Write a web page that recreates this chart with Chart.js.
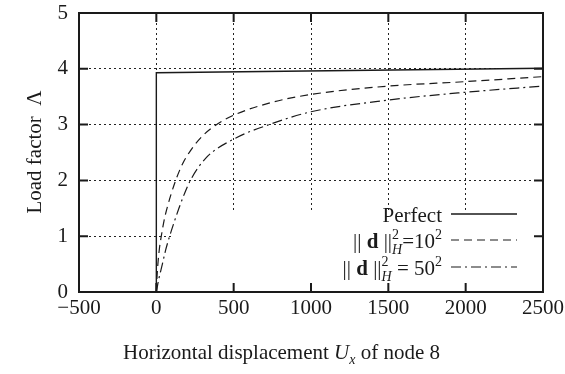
<!DOCTYPE html>
<html>
<head>
<meta charset="UTF-8" />
<title>load factor</title>
<script src="https://cdn.jsdelivr.net/npm/chart.js@4.4.1/dist/chart.umd.min.js"></script>
<style>
  html, body { margin: 0; padding: 0; background: #fff; }
  #wrap { width: 565px; height: 374px; }
</style>
</head>
<body>
<div id="wrap"><canvas id="chart"></canvas></div>
<script>
// data
const xTicks = [-500, 0, 500, 1000, 1500, 2000, 2500];
const yTicks = [0, 1, 2, 3, 4, 5];

const perfectX = [0, 0, 2500];
const perfectY = [0, 3.93, 4.01];

const d10X = [0, 4, 10, 20, 32, 50, 69, 95, 125, 170, 220, 300, 400, 500, 750, 1000, 1500, 2000, 2500];
const d10Y = [0, 0.25, 0.5, 0.78, 1.0, 1.28, 1.5, 1.75, 2.0, 2.3, 2.53, 2.8, 3.02, 3.17, 3.4, 3.54, 3.69, 3.77, 3.86];

const d50X = [0, 15, 39, 60, 86, 115, 146, 180, 220, 320, 500, 750, 1000, 1500, 2000, 2500];
const d50Y = [0, 0.22, 0.5, 0.75, 1.0, 1.25, 1.5, 1.75, 2.0, 2.4, 2.74, 3.02, 3.23, 3.44, 3.58, 3.69];

const legendLabels = ['Perfect', '10', '50'];
const xTitle = ['Horizontal displacement ', 'U', 'x', ' of node 8'];
const yTitle = 'Load factor  \u039B';

const toPts = (xs, ys) => xs.map((x, i) => ({ x: x, y: ys[i] }));

const SERIF = '"Liberation Serif", "DejaVu Serif", serif';
const INK = '#1a1a1a';
const dashes = [[], [8, 5], [10, 4, 2, 4]];

// draw a row of text pieces, right aligned at xr
function richRow(ctx, parts, xr, y) {
  let w = 0;
  parts.forEach(p => {
    ctx.font = p.font;
    p.w = ctx.measureText(p.t).width;
    if (p.sub) { ctx.font = p.subFont; p.w = Math.max(p.w, ctx.measureText(p.sub).width); }
    w += p.w;
  });
  let x = xr - w;
  ctx.textBaseline = 'alphabetic';
  ctx.textAlign = 'left';
  parts.forEach(p => {
    ctx.font = p.font;
    ctx.fillText(p.t, x, y + (p.dy || 0));
    if (p.sub) { ctx.font = p.subFont; ctx.fillText(p.sub, x, y + 6); }
    x += p.w;
  });
  return w;
}

const framePlugin = {
  id: 'frame',
  beforeDatasetsDraw(chart) {
    // key box hides the grid behind it
    const { ctx, scales: { x, y } } = chart;
    ctx.save();
    ctx.fillStyle = '#fff';
    const l = x.getPixelForValue(105), t = y.getPixelForValue(1.43);
    ctx.fillRect(l, t, x.right - l - 1, y.bottom - t - 1);
    ctx.restore();
  },
  afterDraw(chart) {
    const { ctx, chartArea: a, scales: { x, y } } = chart;
    ctx.save();
    ctx.strokeStyle = INK;
    ctx.lineWidth = 2;
    ctx.strokeRect(a.left, a.top, a.right - a.left, a.bottom - a.top);
    ctx.beginPath();
    xTicks.forEach(v => {
      const px = x.getPixelForValue(v);
      ctx.moveTo(px, a.bottom); ctx.lineTo(px, a.bottom - 9);
      ctx.moveTo(px, a.top); ctx.lineTo(px, a.top + 9);
    });
    yTicks.forEach(v => {
      const py = y.getPixelForValue(v);
      ctx.moveTo(a.left, py); ctx.lineTo(a.left + 9, py);
      ctx.moveTo(a.right, py); ctx.lineTo(a.right - 9, py);
    });
    ctx.stroke();

    // legend
    ctx.fillStyle = INK;
    const reg = '21px ' + SERIF, bold = 'bold 21px ' + SERIF, small = '14px ' + SERIF;
    const supSub = { t: '2', font: small, dy: -9, sub: 'H', subFont: 'italic 14px ' + SERIF };
    const rows = [
      [{ t: legendLabels[0], font: reg }],
      [{ t: '|| ', font: reg }, { t: 'd', font: bold }, { t: ' ||', font: reg }, Object.assign({}, supSub),
       { t: '=' + legendLabels[1], font: reg }, { t: '2', font: small, dy: -9 }],
      [{ t: '|| ', font: reg }, { t: 'd', font: bold }, { t: ' ||', font: reg }, Object.assign({}, supSub),
       { t: ' = ' + legendLabels[2], font: reg }, { t: '2', font: small, dy: -9 }]
    ];
    const rowY = [214, 240, 267];
    rows.forEach((r, i) => {
      richRow(ctx, r, 442, rowY[i] + 8);
      ctx.beginPath();
      ctx.lineWidth = i === 0 ? 1.4 : 1.2;
      ctx.setLineDash(dashes[i]);
      ctx.moveTo(451, rowY[i]); ctx.lineTo(517, rowY[i]);
      ctx.stroke();
      ctx.setLineDash([]);
    });

    // x title with italic U and subscript x
    const parts = [
      { t: xTitle[0], font: '21px ' + SERIF },
      { t: xTitle[1], font: 'italic 21px ' + SERIF },
      { t: xTitle[2], font: 'italic 14px ' + SERIF, dy: 5 },
      { t: xTitle[3], font: '21px ' + SERIF }
    ];
    let xx = 123;
    parts.forEach(p => {
      ctx.font = p.font;
      ctx.fillText(p.t, xx, 359 + (p.dy || 0));
      xx += ctx.measureText(p.t).width;
    });

    // y title
    ctx.translate(41, 152);
    ctx.rotate(-Math.PI / 2);
    ctx.font = '21px ' + SERIF;
    ctx.textAlign = 'center';
    ctx.fillText(yTitle, 0, 0);
    ctx.restore();
  }
};

const lineDs = (xs, ys, dash, w) => ({
  data: toPts(xs, ys),
  showLine: true,
  borderColor: INK,
  borderWidth: w,
  borderDash: dash,
  pointRadius: 0,
  cubicInterpolationMode: 'monotone',
  fill: false
});

const data = {
  datasets: [
    Object.assign(lineDs(perfectX, perfectY, dashes[0], 1.4), { cubicInterpolationMode: 'default', tension: 0 }),
    lineDs(d10X, d10Y, dashes[1], 1.2),
    lineDs(d50X, d50Y, dashes[2], 1.2)
  ]
};

const gridColor = (edge) => (c) => (c.tick && edge.includes(c.tick.value)) ? 'rgba(0,0,0,0)' : '#222';

const config = {
  type: 'scatter',
  data: data,
  options: {
    responsive: true,
    maintainAspectRatio: false,
    animation: false,
    layout: { padding: { left: 0, top: 13, right: 22, bottom: 0 } },
    plugins: { legend: { display: false }, tooltip: { enabled: false } },
    scales: {
      x: {
        type: 'linear', min: -500, max: 2500,
        afterBuildTicks: s => { s.ticks = xTicks.map(v => ({ value: v })); },
        afterFit: s => { s.height = 82; s.paddingLeft = 0; s.paddingRight = 0; },
        grid: { color: gridColor([-500, 2500]), lineWidth: 1, drawTicks: false },
        border: { display: false, dash: [2, 3] },
        ticks: {
          padding: 4, color: INK, font: { family: SERIF, size: 21 },
          maxRotation: 0,
          callback: v => String(v).replace('-', '\u2212')
        }
      },
      y: {
        type: 'linear', min: 0, max: 5,
        afterBuildTicks: s => { s.ticks = yTicks.map(v => ({ value: v })); },
        afterFit: s => { s.width = 79; s.paddingTop = 0; s.paddingBottom = 0; },
        grid: { color: gridColor([0, 5]), lineWidth: 1, drawTicks: false },
        border: { display: false, dash: [2, 3] },
        ticks: { padding: 11, color: INK, font: { family: SERIF, size: 21 } }
      }
    }
  },
  plugins: [framePlugin]
};

const chart = new Chart(document.getElementById('chart'), config);
</script>
</body>
</html>
